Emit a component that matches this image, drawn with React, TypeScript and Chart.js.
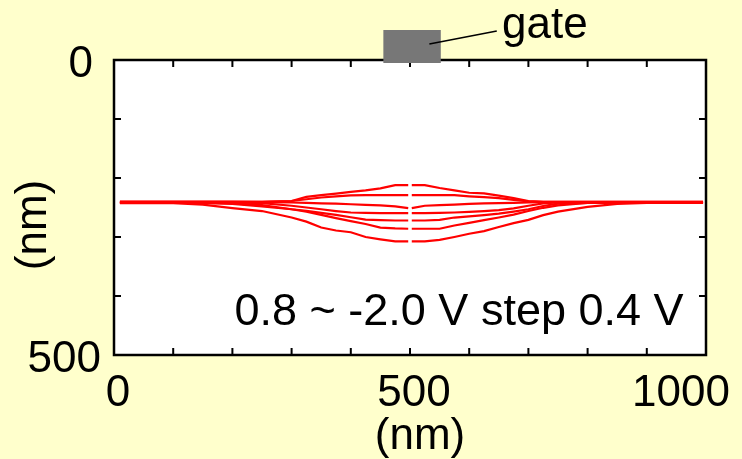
import React, { useEffect, useRef } from 'react';
import { Chart, registerables } from 'chart.js';
Chart.register(...registerables);

// x positions along the channel (nm); null at 500 = gap at the centre
const X_NM = [10, 100, 150, 200, 250, 300, 325, 350, 375, 400, 425, 450, 475, 497, 500, 503, 525, 550, 575, 600, 625, 650, 675, 700, 725, 750, 800, 850, 900, 995];

// depth profiles (nm), gate voltage 0.8 ~ -2.0 V
const C1 = [240, 240, 240, 240, 240.5, 239, 232, 229, 226.5, 223.5, 221, 217.5, 212, 212, null, 212, 212, 217, 221, 225, 226, 230, 234, 239, 240.5, 240.5, 240.5, 240.5, 240.5, 240.5];
const C2 = [240.5, 240.5, 240.5, 240.5, 240.5, 239, 236, 233, 231, 229.5, 229, 229, 229, 229, null, 229, 229, 229, 229, 231, 232.5, 234, 237, 239.5, 240.5, 240.5, 240.5, 240.5, 240.5, 240.5];
const C3 = [241, 241, 241, 241, 241, 241.5, 242, 243, 243.5, 244.5, 245.5, 246.5, 248, 251, null, 251, 247, 246, 245, 244, 243, 242.5, 242, 241.5, 241, 241, 241, 241, 241, 241];
const C4 = [241.5, 241.5, 241.5, 241.5, 242.5, 247, 250, 253, 256, 258.5, 259, 259.5, 259.5, 259.5, null, 259.5, 259.5, 259, 258.5, 257.5, 256, 254.5, 251.5, 247, 243, 241.5, 241.5, 241.5, 241.5, 241.5];
const C5 = [242, 242, 242, 243, 246, 253, 255.5, 259, 262.5, 266.5, 270.5, 271.5, 272, 272, null, 272, 272, 271, 267, 265, 263, 260.5, 257, 253, 247.5, 243.5, 242, 242, 242, 242];
const C6 = [242, 242, 242, 244, 248, 253, 257, 262.5, 268, 273, 278, 284, 285.5, 286, null, 286, 286, 286, 280.5, 276, 271.5, 267, 262, 256, 250.5, 246.5, 242, 242, 242, 242];
const C7 = [242.5, 242.5, 245, 251, 256, 267, 274, 284, 289, 292, 300, 304, 307.5, 307.5, null, 307.5, 307.5, 305, 300, 294.5, 290, 283, 276.5, 271, 263, 257, 249, 244, 242, 242];
const CURVES = [C1, C2, C3, C4, C5, C6, C7];

const X_TICKS = [100, 200, 300, 400, 500, 600, 700, 800, 900];
const Y_TICKS = [100, 200, 300, 400];
const X_LABELS = ['0', '500', '1000'];
const Y_LABELS = ['0', '500'];
const GATE_X = [455, 552];
const NOTE = '0.8 ~ -2.0 V step 0.4 V';

const FONT = '44px "Liberation Sans", Arial, sans-serif';

const decor = {
  id: 'decor',
  beforeDraw(chart: any) {
    const { ctx, chartArea: a } = chart;
    ctx.save();
    ctx.fillStyle = '#FFFFCC';
    ctx.fillRect(0, 0, chart.width, chart.height);
    ctx.fillStyle = '#FFFFFF';
    ctx.fillRect(a.left, a.top, a.right - a.left, a.bottom - a.top);
    ctx.restore();
  },
  afterDraw(chart: any) {
    const { ctx, chartArea: a } = chart;
    const xs = chart.scales.x;
    const ys = chart.scales.y;
    ctx.save();
    // border
    ctx.strokeStyle = '#000';
    ctx.lineWidth = 2.5;
    ctx.strokeRect(a.left, a.top, a.right - a.left, a.bottom - a.top);
    // ticks (inward, mirrored)
    ctx.lineWidth = 2;
    const tl = 7;
    ctx.beginPath();
    X_TICKS.forEach((v) => {
      const px = xs.getPixelForValue(v);
      ctx.moveTo(px, a.bottom);
      ctx.lineTo(px, a.bottom - tl);
      ctx.moveTo(px, a.top);
      ctx.lineTo(px, a.top + tl);
    });
    Y_TICKS.forEach((v) => {
      const py = ys.getPixelForValue(v);
      ctx.moveTo(a.left, py);
      ctx.lineTo(a.left + tl, py);
      ctx.moveTo(a.right, py);
      ctx.lineTo(a.right - tl, py);
    });
    ctx.stroke();

    // gate
    const gx0 = xs.getPixelForValue(GATE_X[0]);
    const gx1 = xs.getPixelForValue(GATE_X[1]);
    ctx.fillStyle = '#777777';
    ctx.fillRect(gx0, a.top - 30, gx1 - gx0, 33);
    ctx.strokeStyle = '#000';
    ctx.lineWidth = 1.5;
    ctx.beginPath();
    ctx.moveTo(gx0 + 46, a.top - 16);
    ctx.lineTo(gx1 + 56, a.top - 29);
    ctx.stroke();

    ctx.fillStyle = '#000';
    ctx.font = FONT;
    ctx.textBaseline = 'alphabetic';
    ctx.textAlign = 'left';
    ctx.fillText('gate', 502, 38);

    // tick labels
    ctx.textAlign = 'center';
    ctx.fillText(X_LABELS[0], xs.getPixelForValue(0) + 4, 406);
    ctx.fillText(X_LABELS[1], xs.getPixelForValue(500) + 4, 406);
    ctx.textAlign = 'right';
    ctx.fillText(X_LABELS[2], 730, 406);
    ctx.fillText(Y_LABELS[0], 93, ys.getPixelForValue(0) + 17);
    ctx.fillText(Y_LABELS[1], 101, ys.getPixelForValue(500) + 17);

    // axis titles
    ctx.textAlign = 'center';
    ctx.fillText('(nm)', 420, 449);
    ctx.save();
    ctx.translate(46, 225);
    ctx.rotate(-Math.PI / 2);
    ctx.fillText('(nm)', 0, 0);
    ctx.restore();

    // note
    ctx.textAlign = 'center';
    ctx.font = '45px "Liberation Sans", Arial, sans-serif';
    ctx.fillText(NOTE, 459, 325);
    ctx.restore();
  },
};

export default function App() {
  const ref = useRef<HTMLCanvasElement | null>(null);
  useEffect(() => {
    if (!ref.current) return;
    const datasets = CURVES.map((c, i) => ({
      label: 'V' + i,
      data: X_NM.map((x, j) => ({ x, y: c[j] })),
      borderColor: '#FF0000',
      borderWidth: 2.2,
      pointRadius: 0,
      tension: 0,
      fill: false,
      spanGaps: false,
    }));
    const chart = new Chart(ref.current, {
      type: 'line',
      data: { datasets },
      options: {
        responsive: false,
        animation: false,
        layout: { padding: { left: 114, right: 36, top: 60, bottom: 104 } },
        plugins: { legend: { display: false }, tooltip: { enabled: false } },
        scales: {
          x: { type: 'linear', min: 0, max: 1000, display: false },
          y: { type: 'linear', min: 0, max: 500, reverse: true, display: false },
        },
      },
      plugins: [decor],
    });
    return () => chart.destroy();
  }, []);
  return (
    <div style={{ position: 'fixed', left: 0, top: 0, width: 742, height: 459, background: '#FFFFCC' }}>
      <canvas ref={ref} width={742} height={459} />
    </div>
  );
}
